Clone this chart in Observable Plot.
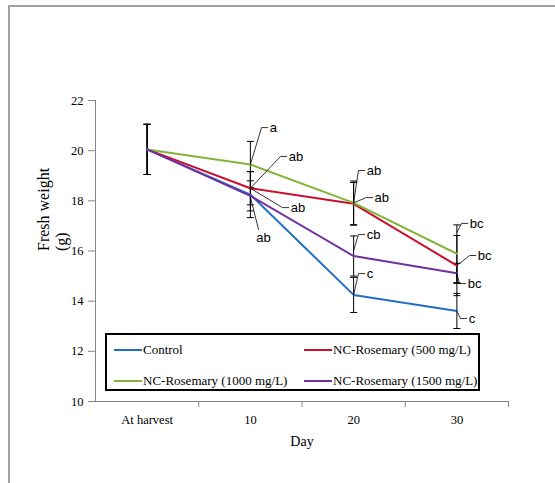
<!DOCTYPE html>
<html>
<head>
<meta charset="utf-8">
<script src="https://cdn.jsdelivr.net/npm/d3@7"></script>
<script src="https://cdn.jsdelivr.net/npm/@observablehq/plot@0.6"></script>
<style>
  html, body { margin: 0; padding: 0; background: #fff; }
  #wrap { position: relative; width: 555px; height: 483px; overflow: hidden; }
  #frame { position: absolute; left: 8px; top: 5px; width: 600px; height: 600px;
           border-left: 2px solid #a0a0a0; border-top: 2px solid #a0a0a0; }
  #legend { position: absolute; left: 105px; top: 333px; width: 371px; height: 54px;
            border: 2px solid #000; background: #fff;
            font-family: "Liberation Serif", "Times New Roman", serif; font-size: 13px; }
  .entry { position: absolute; display: flex; align-items: center; height: 16px; }
  .swatch { width: 28px; height: 2px; margin-right: 1px; }
  #chart { position: absolute; left: 0; top: 0; }
</style>
</head>
<body>
<div id="wrap">
  <div id="frame"></div>
  <div id="chart"></div>
  <div id="legend"></div>
</div>
<script>
// ---- data ----
const categories = ["At harvest", "10", "20", "30"];
const seriesNames = ["Control", "NC-Rosemary (500 mg/L)", "NC-Rosemary (1000 mg/L)", "NC-Rosemary (1500 mg/L)"];
const seriesColors = ["#1f6fc6", "#c8102e", "#84b43a", "#7030a0"];
const control   = [20.05, 18.25, 14.25, 13.61];
const rose500   = [20.05, 18.50, 17.88, 15.42];
const rose1000  = [20.05, 19.45, 17.92, 15.89];
const rose1500  = [20.05, 18.20, 15.80, 15.11];
const errControl  = [1.0, 0.92, 0.70, 0.70];
const err500      = [1.0, 0.66, 0.85, 1.20];
const err1000     = [1.0, 0.92, 0.87, 1.15];
const err1500     = [1.0, 0.60, 0.80, 0.40];
const yTicks = [10, 12, 14, 16, 18, 20, 22];

// significance letters with leader lines (from point -> bend)
const annText  = ["a", "ab", "ab", "ab", "ab", "ab", "cb", "c", "bc", "bc", "bc", "c"];
const annFromX = [1, 1, 1, 1, 2, 2, 2, 2, 3, 3, 3, 3];
const annFromY = [19.45, 18.50, 18.50, 18.15, 17.92, 17.92, 16.02, 14.25, 16.74, 15.42, 15.11, 13.61];
const annToX   = [1.108, 1.292, 1.311, 1.079, 2.047, 2.124, 2.047, 2.047, 3.045, 3.123, 3.025, 3.035];
const annToY   = [20.92, 19.77, 17.73, 16.86, 19.21, 18.13, 16.66, 15.10, 17.10, 15.82, 14.70, 13.31];
const annBelow = [false, false, false, true, false, false, false, false, false, false, false, false];

// ---- build tables ----
const seriesValues = [control, rose500, rose1000, rose1500];
const seriesErrors = [errControl, err500, err1000, err1500];
const rows = [];
seriesNames.forEach((s, k) => {
  categories.forEach((c, i) => {
    rows.push({series: s, i, value: seriesValues[k][i], err: seriesErrors[k][i]});
  });
});
const ann = annText.map((t, j) => ({
  text: t, x0: annFromX[j], y0: annFromY[j], x1: annToX[j], y1: annToY[j], below: annBelow[j]
}));
const hook = 0.06;   // horizontal leader hook, in category units
const cap = 0.034;   // error-bar cap half width
const leaderPts = [];
ann.forEach((a, j) => {
  leaderPts.push({j, x: a.x0, y: a.y0});
  leaderPts.push({j, x: a.x1, y: a.y1});
  if (!a.below) leaderPts.push({j, x: a.x1 + hook, y: a.y1});
});

const color = d3.scaleOrdinal(seriesNames, seriesColors);
const gray = "#868686";

const chart = Plot.plot({
  width: 555,
  height: 483,
  marginLeft: 95,
  marginRight: 47,
  marginTop: 100,
  marginBottom: 82,
  x: {type: "linear", domain: [-0.5, 3.5], axis: null},
  y: {domain: [10, 22], axis: null},
  style: {fontFamily: "'Liberation Serif', 'Times New Roman', serif", fontSize: "12px", background: "transparent", overflow: "visible"},
  marks: [
    // axes
    Plot.ruleX([-0.5], {stroke: gray}),
    Plot.ruleY([10], {stroke: gray}),
    Plot.axisY({ticks: yTicks, tickSize: 7, tickFormat: () => "", stroke: gray, label: null}),
    Plot.axisY({ticks: yTicks, tickSize: 0, tickPadding: 12, fill: "#000", label: null, fontSize: 12.5}),
    Plot.axisX({ticks: [0.5, 1.5, 2.5, 3.5], tickSize: 6, tickFormat: () => "", stroke: gray, label: null}),
    Plot.axisX({ticks: [0, 1, 2, 3], tickSize: 0, tickPadding: 14, tickFormat: i => categories[i], fill: "#000", label: null, fontSize: 12.5}),
    Plot.text(["Day"], {frameAnchor: "bottom", dy: 44, fontSize: 14, fill: "#000"}),
    Plot.text(["Fresh weight\n(g)"], {frameAnchor: "left", dx: -43, rotate: -90, fontSize: 16, lineHeight: 1.1, fill: "#000"}),
    // error bars
    Plot.link(rows, {x1: "i", x2: "i", y1: d => d.value - d.err, y2: d => d.value + d.err, stroke: "#000", strokeWidth: 1}),
    Plot.link(rows, {x1: d => d.i - cap, x2: d => d.i + cap, y1: d => d.value + d.err, y2: d => d.value + d.err, stroke: "#000", strokeWidth: 1}),
    Plot.link(rows, {x1: d => d.i - cap, x2: d => d.i + cap, y1: d => d.value - d.err, y2: d => d.value - d.err, stroke: "#000", strokeWidth: 1}),
    // series lines
    Plot.line(rows, {x: "i", y: "value", z: "series", stroke: d => color(d.series), strokeWidth: 2, curve: "linear"}),
    // leader lines
    Plot.line(leaderPts, {x: "x", y: "y", z: "j", stroke: "#000", strokeWidth: 0.8}),
    // letters
    Plot.text(ann.filter(a => !a.below), {x: d => d.x1 + hook, y: "y1", text: "text", textAnchor: "start", dx: 2, fontFamily: "'Liberation Sans', Arial, sans-serif", fontSize: 13, fill: "#000"}),
    Plot.text(ann.filter(a => a.below), {x: d => d.x1, y: "y1", text: "text", textAnchor: "middle", lineAnchor: "top", dx: 5, dy: 3, fontFamily: "'Liberation Sans', Arial, sans-serif", fontSize: 13, fill: "#000"})
  ]
});
document.getElementById("chart").appendChild(chart);

// legend
const legend = document.getElementById("legend");
const legendPos = [[7, 7], [197, 7], [7, 38], [197, 38]];
seriesNames.forEach((s, k) => {
  const e = document.createElement("div");
  e.className = "entry";
  e.style.left = legendPos[k][0] + "px";
  e.style.top = legendPos[k][1] + "px";
  const sw = document.createElement("span");
  sw.className = "swatch";
  sw.style.background = seriesColors[k];
  const t = document.createElement("span");
  t.textContent = s;
  e.appendChild(sw); e.appendChild(t);
  legend.appendChild(e);
});
</script>
</body>
</html>
